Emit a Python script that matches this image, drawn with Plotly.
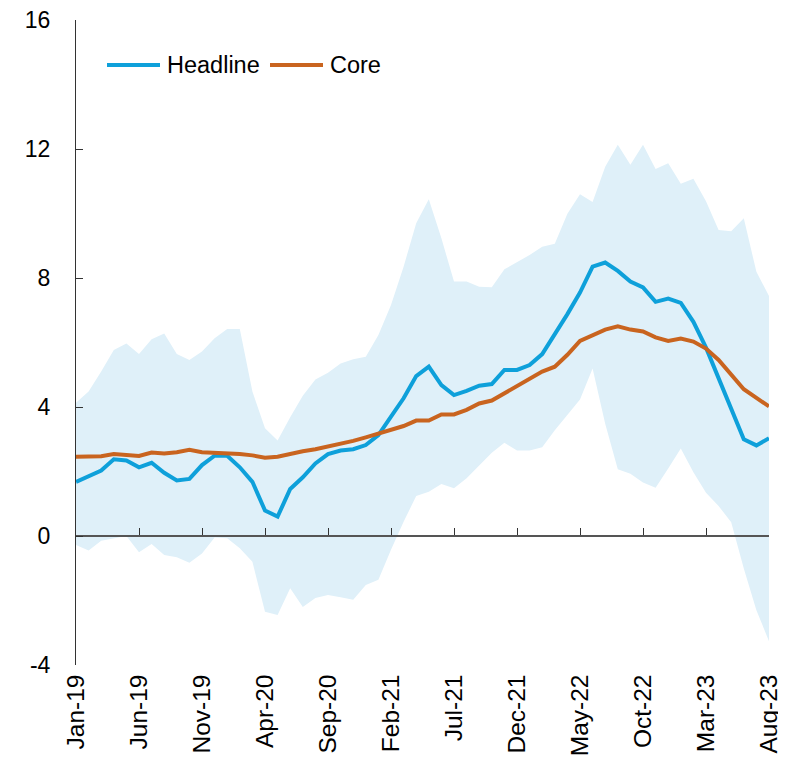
import pandas as pd
import plotly.graph_objects as go

months = list(pd.date_range("2019-01-01", periods=56, freq="MS").strftime("%b-%y"))

headline = [1.68, 1.86, 2.03, 2.38, 2.34, 2.13, 2.27, 1.96, 1.72, 1.77,
            2.20, 2.49, 2.49, 2.13, 1.68, 0.79, 0.60, 1.46, 1.82, 2.25,
            2.54, 2.65, 2.69, 2.82, 3.13, 3.70, 4.27, 4.96, 5.25, 4.68,
            4.37, 4.50, 4.66, 4.71, 5.15, 5.15, 5.30, 5.64, 6.25, 6.88,
            7.55, 8.35, 8.48, 8.22, 7.89, 7.71, 7.26, 7.36, 7.23, 6.64,
            5.84, 4.87, 3.96, 3.00, 2.81, 3.03]

core = [2.46, 2.46, 2.47, 2.54, 2.51, 2.48, 2.59, 2.56, 2.60, 2.67,
        2.60, 2.58, 2.58, 2.54, 2.50, 2.43, 2.46, 2.56, 2.63, 2.69,
        2.77, 2.84, 2.95, 3.06, 3.18, 3.29, 3.41, 3.58, 3.58, 3.77,
        3.77, 3.91, 4.11, 4.20, 4.42, 4.66, 4.87, 5.10, 5.25, 5.62,
        6.05, 6.21, 6.40, 6.50, 6.40, 6.34, 6.16, 6.05, 6.12, 6.03,
        5.81, 5.46, 5.00, 4.55, 4.28, 4.02]

band_upper = [4.13, 4.48, 5.10, 5.77, 5.97, 5.64, 6.10, 6.28, 5.64, 5.46,
              5.72, 6.13, 6.42, 6.42, 4.48, 3.34, 2.96, 3.68, 4.35, 4.85,
              5.06, 5.35, 5.48, 5.56, 6.23, 7.16, 8.35, 9.70, 10.44, 9.23,
              7.89, 7.89, 7.73, 7.71, 8.27, 8.48, 8.71, 8.97, 9.06, 9.99,
              10.60, 10.36, 11.45, 12.13, 11.51, 12.13, 11.38, 11.56, 10.92, 11.08,
              10.38, 9.49, 9.45, 9.85, 8.19, 7.44]

band_lower = [-0.28, -0.45, -0.15, -0.07, 0.00, -0.50, -0.25, -0.59, -0.66, -0.83,
              -0.54, -0.05, -0.07, -0.38, -0.80, -2.35, -2.45, -1.62, -2.20, -1.92,
              -1.83, -1.90, -1.98, -1.52, -1.36, -0.43, 0.44, 1.24, 1.37, 1.61,
              1.48, 1.79, 2.20, 2.58, 2.89, 2.65, 2.65, 2.75, 3.28, 3.75,
              4.23, 5.19, 3.48, 2.07, 1.93, 1.66, 1.50, 2.09, 2.71, 1.98,
              1.34, 0.93, 0.43, -1.01, -2.30, -3.26]

tick_labels = months[::5]
y_ticks = [-4, 0, 4, 8, 12, 16]
y_ticktext = ["-4", "0", "4", "8", "12", "16"]

BAND = "#DFF0F9"
BLUE = "#0EA0DA"
ORANGE = "#C9641F"
FONT = "Liberation Sans, Arial, sans-serif"

# figure geometry (page body has an 8px margin)
W, H = 778, 760
ML, MR, MT, MB = 68, 17, 12, 103
PW, PH = W - ML - MR, H - MT - MB

def px_to_paper(x, y):
    # x, y in window pixels
    return (x - 8 - ML) / PW, 1 - (y - 8 - MT) / PH

fig = go.Figure()
fig.add_trace(go.Scatter(x=months, y=band_upper, mode="lines", line=dict(width=0, color=BAND),
                         showlegend=False, hoverinfo="skip"))
fig.add_trace(go.Scatter(x=months, y=band_lower, mode="lines", line=dict(width=0, color=BAND),
                         fill="tonexty", fillcolor=BAND, showlegend=False, hoverinfo="skip"))
fig.add_trace(go.Scatter(x=months, y=headline, mode="lines", name="Headline",
                         line=dict(color=BLUE, width=4), showlegend=False))
fig.add_trace(go.Scatter(x=months, y=core, mode="lines", name="Core",
                         line=dict(color=ORANGE, width=4), showlegend=False))

# manual legend
legend_items = [("Headline", BLUE, 107, 160, 165), ("Core", ORANGE, 270, 323, 328)]
for name, col, x0, x1, xt in legend_items:
    a0, b = px_to_paper(x0, 65)
    a1, _ = px_to_paper(x1, 65)
    at, _ = px_to_paper(xt, 65)
    fig.add_shape(type="line", xref="paper", yref="paper", x0=a0, x1=a1, y0=b, y1=b,
                  line=dict(color=col, width=4))
    fig.add_annotation(xref="paper", yref="paper", x=at, y=b, text=name, showarrow=False,
                       xanchor="left", yanchor="middle", font=dict(size=23.5, color="black"))

fig.update_layout(
    width=W, height=H,
    margin=dict(l=ML, r=MR, t=MT, b=MB),
    paper_bgcolor="white", plot_bgcolor="white",
    font=dict(family=FONT, size=23, color="black"),
    showlegend=False,
    xaxis=dict(
        type="category", range=[0, 55],
        tickvals=tick_labels, ticktext=tick_labels, tickangle=-90,
        ticks="inside", ticklen=7, tickcolor="#333333", tickwidth=1,
        showline=True, linecolor="#555555", linewidth=1.5,
        anchor="free", position=0.2,
        showgrid=False, zeroline=False,
        ticklabelstandoff=128,
        ticklabeloverflow="allow",
        tickfont=dict(size=24.5),
        automargin=False,
    ),
    yaxis=dict(
        range=[-4, 16], tickvals=y_ticks, ticktext=y_ticktext,
        ticks="inside", ticklen=7, tickcolor="#333333", tickwidth=1,
        showline=True, linecolor="#333333", linewidth=1,
        showgrid=False, zeroline=False,
        ticklabelstandoff=20,
        ticklabeloverflow="allow",
        tickfont=dict(size=23),
        automargin=False,
    ),
)

fig.write_html("out.html")
